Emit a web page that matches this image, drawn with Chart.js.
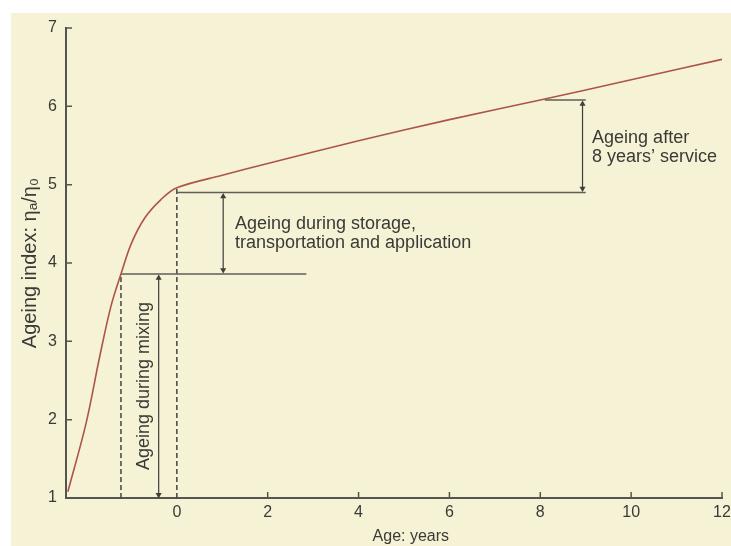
<!DOCTYPE html>
<html>
<head>
<meta charset="utf-8">
<script src="https://cdn.jsdelivr.net/npm/chart.js@4.4.0/dist/chart.umd.min.js"></script>
<style>
  html, body { margin: 0; padding: 0; background: #fff; }
  canvas { display: block; }
</style>
</head>
<body>
<canvas id="myChart" width="731" height="546"></canvas>
<script>
// curve: ageing index against age (years)
const curveAge   = [-2.40, -2.00, -1.70, -1.45, -1.23, -1.00, -0.70, -0.35, 0, 1, 2, 4, 6, 8, 10, 12]
const curveIndex = [1.08, 1.95, 2.80, 3.45, 3.86, 4.25, 4.58, 4.81, 4.96, 5.12, 5.27, 5.56, 5.83, 6.08, 6.34, 6.60]

// tick labels
const xTicks = [0, 2, 4, 6, 8, 10, 12]
const yTicks = [1, 2, 3, 4, 5, 6, 7]

// level lines (solid)
const mixLevelX = [-1.23, 2.85],  mixLevelY = [3.86, 3.86]
const appLevelX = [0, 9.0],       appLevelY = [4.90, 4.90]
const svcLevelX = [8.1, 9.0],     svcLevelY = [6.08, 6.08]

// dashed drop lines
const dropMixX = [-1.23, -1.23],  dropMixY = [1.0, 3.86]
const dropAppX = [0, 0],          dropAppY = [1.0, 4.96]

// double arrows
const arrowMixX = [-0.40, -0.40], arrowMixY = [1.04, 3.81]
const arrowAppX = [1.02, 1.02],   arrowAppY = [3.91, 4.85]
const arrowSvcX = [8.93, 8.93],   arrowSvcY = [4.95, 6.03]

// texts
const xTitle = 'Age: years'
const yTitle = 'Ageing index: \u03b7\u2090/\u03b7\u2080'
const mixText = 'Ageing during mixing'
const appText = ['Ageing during storage,', 'transportation and application']
const svcText = ['Ageing after', '8 years\u2019 service']

const FONT = '"Liberation Sans", Arial, sans-serif'

function pts(xs, ys) {
  return xs.map((x, i) => ({x: x, y: ys[i]}))
}

function segment(xs, ys, color, width, dash) {
  return {
    data: pts(xs, ys),
    borderColor: color,
    borderWidth: width,
    borderDash: dash || [],
    pointRadius: 0,
    tension: 0
  }
}

function arrow(xs, ys) {
  return {
    data: pts(xs, ys),
    borderColor: '#3e3e3a',
    backgroundColor: '#3e3e3a',
    borderWidth: 1.2,
    pointStyle: 'triangle',
    pointRadius: 3.5,
    pointBorderWidth: 0,
    pointRotation: [180, 0],
    tension: 0
  }
}

// cream paper background with a white margin
const paper = {
  id: 'paper',
  beforeDraw(chart) {
    const ctx = chart.ctx
    ctx.save()
    ctx.fillStyle = '#ffffff'
    ctx.fillRect(0, 0, chart.width, chart.height)
    ctx.fillStyle = '#f6f2d6'
    ctx.fillRect(11, 13, chart.width - 11, chart.height - 13)
    ctx.restore()
  }
}

// inward tick marks
const innerTicks = {
  id: 'innerTicks',
  afterDraw(chart) {
    const ctx = chart.ctx
    const x = chart.scales.x, y = chart.scales.y
    const area = chart.chartArea
    ctx.save()
    ctx.strokeStyle = '#55554f'
    ctx.lineWidth = 1.5
    ctx.beginPath()
    xTicks.forEach(v => {
      if (v === 0) return
      const px = x.getPixelForValue(v)
      ctx.moveTo(px, area.bottom)
      ctx.lineTo(px, area.bottom - 6)
    })
    yTicks.forEach(v => {
      const py = y.getPixelForValue(v)
      ctx.moveTo(area.left, py)
      ctx.lineTo(area.left + 6, py)
    })
    ctx.stroke()
    ctx.restore()
  }
}

// text notes and x axis title
const notes = {
  id: 'notes',
  afterDatasetsDraw(chart) {
    const ctx = chart.ctx
    const x = chart.scales.x, y = chart.scales.y
    ctx.save()
    ctx.fillStyle = '#3a3a36'
    ctx.textBaseline = 'middle'
    ctx.textAlign = 'center'
    ctx.font = '16px ' + FONT
    ctx.fillText(xTitle, x.getPixelForValue(5.15), 537)

    ctx.font = '18px ' + FONT
    ctx.textAlign = 'left'
    let px = x.getPixelForValue(1.28), py = y.getPixelForValue(4.50)
    ctx.fillText(appText[0], px, py)
    ctx.fillText(appText[1], px, py + 19)
    px = x.getPixelForValue(9.14); py = y.getPixelForValue(5.60)
    ctx.fillText(svcText[0], px, py)
    ctx.fillText(svcText[1], px, py + 19)
    ctx.translate(x.getPixelForValue(-0.72), y.getPixelForValue(2.43))
    ctx.rotate(-Math.PI / 2)
    ctx.textAlign = 'center'
    ctx.fillText(mixText, 0, 0)
    ctx.restore()
  }
}

const ctx = document.getElementById('myChart').getContext('2d')
const chart = new Chart(ctx, {
  type: 'line',
  data: {
    datasets: [
      {
        data: pts(curveAge, curveIndex),
        borderColor: '#ad5448',
        borderWidth: 1.6,
        pointRadius: 0,
        tension: 0.35
      },
      segment(mixLevelX, mixLevelY, '#5e5e58', 1.5),
      segment(appLevelX, appLevelY, '#5e5e58', 1.5),
      segment(svcLevelX, svcLevelY, '#5e5e58', 1.5),
      segment(dropMixX, dropMixY, '#45453f', 1.5, [5, 3]),
      segment(dropAppX, dropAppY, '#45453f', 1.5, [5, 3]),
      arrow(arrowMixX, arrowMixY),
      arrow(arrowAppX, arrowAppY),
      arrow(arrowSvcX, arrowSvcY)
    ]
  },
  options: {
    responsive: false,
    animation: false,
    devicePixelRatio: 1,
    layout: { padding: { top: 28, right: 9, left: 0, bottom: 0 } },
    plugins: { legend: { display: false }, tooltip: { enabled: false } },
    scales: {
      x: {
        type: 'linear',
        min: -2.44,
        max: 12,
        afterFit(s) { s.height = 48; s.paddingLeft = 0; s.paddingRight = 0 },
        afterBuildTicks(s) { s.ticks = xTicks.map(v => ({value: v})) },
        grid: { display: false, drawTicks: false },
        border: { display: true, color: '#55554f', width: 2 },
        ticks: { padding: 5, color: '#3a3a36', font: { family: FONT, size: 16 } }
      },
      y: {
        min: 1,
        max: 7,
        afterFit(s) { s.width = 66; s.paddingTop = 0; s.paddingBottom = 0 },
        afterBuildTicks(s) { s.ticks = yTicks.map(v => ({value: v})) },
        grid: { display: false, drawTicks: false },
        border: { display: true, color: '#55554f', width: 2 },
        ticks: { padding: 9, color: '#3a3a36', font: { family: FONT, size: 16 } },
        title: {
          display: true,
          text: yTitle,
          color: '#3a3a36',
          padding: { top: 18, bottom: 0 },
          font: { family: FONT, size: 20 }
        }
      }
    }
  },
  plugins: [paper, innerTicks, notes]
})
</script>
</body>
</html>
